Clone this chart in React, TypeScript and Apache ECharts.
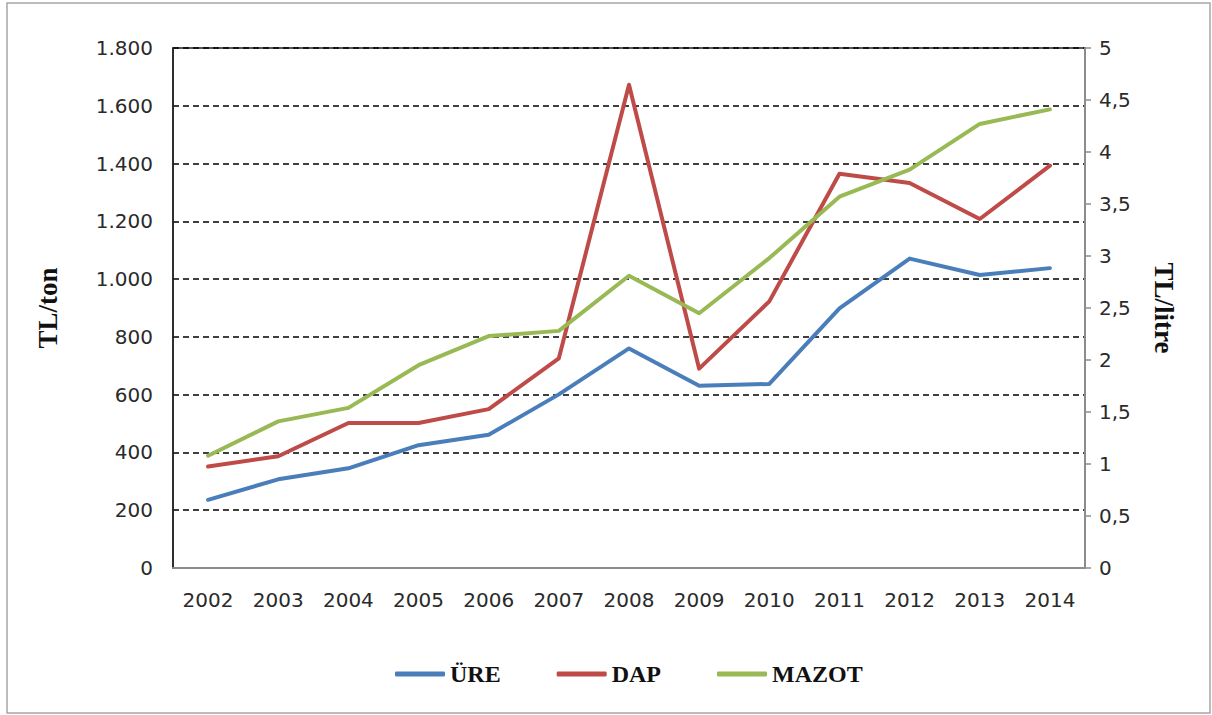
import React, { useEffect, useRef } from "react";
import * as echarts from "echarts";

const years = ["2002", "2003", "2004", "2005", "2006", "2007", "2008", "2009", "2010", "2011", "2012", "2013", "2014"];
const ureValues = [236, 307, 345, 425, 461, 601, 760, 631, 637, 899, 1071, 1014, 1038];
const dapValues = [351, 387, 502, 502, 550, 726, 1673, 690, 923, 1365, 1333, 1208, 1393];
const mazotValues = [1.08, 1.41, 1.54, 1.95, 2.23, 2.28, 2.81, 2.45, 2.98, 3.57, 3.83, 4.27, 4.41];

const seriesNames = ["ÜRE", "DAP", "MAZOT"];
const seriesColors = ["#4A7EBB", "#BE4B48", "#98B954"];

const tickFont = "DejaVu Sans";
const titleFont = "Liberation Serif";

export default function App() {
  const ref = useRef<HTMLDivElement>(null);

  useEffect(() => {
    if (!ref.current) return;
    const chart = echarts.init(ref.current, undefined, { renderer: "svg" });
    const lineStyle = (c: string) => ({ color: c, width: 4, cap: "round" as const, join: "round" as const });
    chart.setOption({
      animation: false,
      backgroundColor: "#ffffff",
      graphic: [
        {
          type: "rect",
          shape: { x: 7, y: 3, width: 1203, height: 710 },
          style: { fill: "none", stroke: "#a6a6a6", lineWidth: 1.5 },
          silent: true,
          z: -10,
        },
      ],
      grid: {
        left: 173,
        right: 127,
        top: 48,
        bottom: 147,
        show: true,
        borderColor: "#222",
        borderWidth: 1.5,
        containLabel: false,
      },
      legend: {
        left: 390,
        top: 657,
        itemWidth: 50,
        itemHeight: 5,
        itemGap: 56,
        icon: "roundRect",
        textStyle: { fontFamily: titleFont, fontWeight: "bold", fontSize: 24, color: "#111" },
        data: seriesNames,
      },
      xAxis: {
        type: "category",
        data: years,
        boundaryGap: true,
        axisLine: { show: true, lineStyle: { color: "#8c8c8c", width: 2 } },
        axisTick: { show: false },
        axisLabel: { fontFamily: tickFont, fontSize: 20, color: "#2a2a2a", margin: 22, interval: 0 },
        splitLine: { show: false },
      },
      yAxis: [
        {
          type: "value",
          min: 0,
          max: 1800,
          interval: 200,
          name: "TL/ton",
          nameLocation: "middle",
          nameGap: 112,
          nameRotate: 90,
          nameTextStyle: { fontFamily: titleFont, fontWeight: "bold", fontSize: 27, color: "#111" },
          axisLine: { show: true, lineStyle: { color: "#222", width: 1.5 } },
          axisTick: { show: false },
          axisLabel: {
            fontFamily: tickFont,
            fontSize: 20,
            color: "#2a2a2a",
            margin: 20,
            formatter: (v: number) => v.toString().replace(/\B(?=(\d{3})+(?!\d))/g, "."),
          },
          splitLine: { show: true, lineStyle: { color: "#000", width: 1.5, type: [6, 4] } },
        },
        {
          type: "value",
          min: 0,
          max: 5,
          interval: 0.5,
          position: "right",
          name: "TL/litre",
          nameLocation: "middle",
          nameGap: 65,
          nameRotate: -90,
          nameTextStyle: { fontFamily: titleFont, fontWeight: "bold", fontSize: 27, color: "#111" },
          axisLine: { show: true, lineStyle: { color: "#8c8c8c", width: 2 } },
          axisTick: { show: true, inside: false, length: 6, lineStyle: { color: "#8c8c8c", width: 1.5 } },
          axisLabel: {
            fontFamily: tickFont,
            fontSize: 20,
            color: "#2a2a2a",
            margin: 14,
            formatter: (v: number) => v.toString().replace(".", ","),
          },
          splitLine: { show: false },
        },
      ],
      series: [
        {
          name: seriesNames[0],
          type: "line",
          data: ureValues,
          yAxisIndex: 0,
          symbol: "none",
          color: seriesColors[0],
          lineStyle: lineStyle(seriesColors[0]),
          z: 3,
        },
        {
          name: seriesNames[1],
          type: "line",
          data: dapValues,
          yAxisIndex: 0,
          symbol: "none",
          color: seriesColors[1],
          lineStyle: lineStyle(seriesColors[1]),
          z: 4,
        },
        {
          name: seriesNames[2],
          type: "line",
          data: mazotValues,
          yAxisIndex: 1,
          symbol: "none",
          color: seriesColors[2],
          lineStyle: lineStyle(seriesColors[2]),
          z: 5,
        },
      ],
    });
    return () => chart.dispose();
  }, []);

  return (
    <div
      ref={ref}
      style={{ position: "fixed", left: 0, top: 0, width: 1212, height: 715, background: "#fff" }}
    />
  );
}
